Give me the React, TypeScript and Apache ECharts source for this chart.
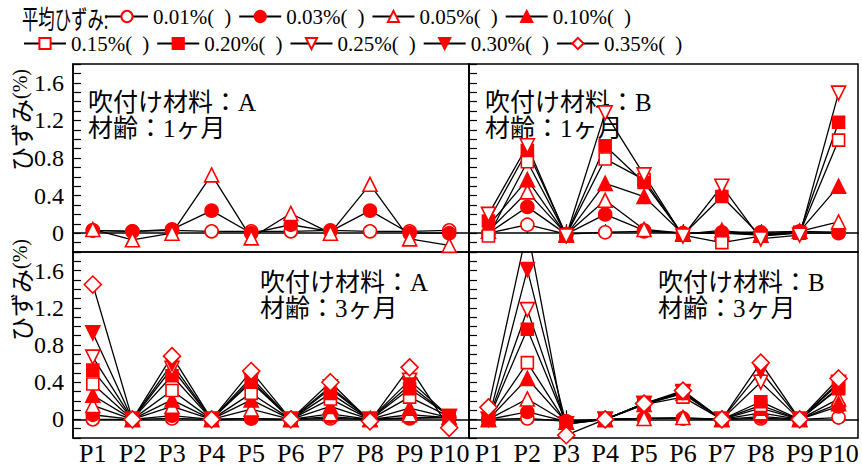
import React, { useEffect, useRef } from "react";
import * as echarts from "echarts";

const CATEGORIES = ["P1", "P2", "P3", "P4", "P5", "P6", "P7", "P8", "P9", "P10"];
const SERIES_NAMES = ["0.01%(  )", "0.03%(  )", "0.05%(  )", "0.10%(  )", "0.15%(  )", "0.20%(  )", "0.25%(  )", "0.30%(  )", "0.35%(  )"];
const Y_TICK_LABELS = ["0", "0.4", "0.8", "1.2", "1.6"];

// Panel A, 1 month (top-left) – series 0.01, 0.03, 0.05
const A1_001 = [0.03, 0.02, 0.03, 0.02, 0.02, 0.02, 0.03, 0.02, 0.02, 0.03];
const A1_003 = [0.03, 0.02, 0.04, 0.24, 0.0, 0.09, 0.02, 0.24, 0.0, 0.0];
const A1_005 = [0.04, -0.07, 0.0, 0.62, -0.05, 0.21, 0.0, 0.52, -0.06, -0.13];

// Panel B, 1 month (top-right) – series 0.01 .. 0.25
const B1_001 = [0.0, 0.09, -0.01, 0.01, 0.02, 0.0, 0.0, -0.01, 0.0, 0.0];
const B1_003 = [0.0, 0.28, -0.01, 0.2, 0.03, 0.0, 0.01, 0.01, 0.02, 0.01];
const B1_005 = [0.02, 0.44, -0.01, 0.35, 0.04, 0.0, 0.0, -0.02, 0.02, 0.12];
const B1_010 = [0.08, 0.57, -0.02, 0.53, 0.39, -0.01, 0.03, -0.02, 0.02, 0.5];
const B1_015 = [-0.03, 0.76, -0.02, 0.79, 0.57, -0.02, -0.1, -0.03, 0.0, 0.99];
const B1_020 = [0.13, 0.88, -0.02, 0.93, 0.54, -0.02, 0.39, -0.03, 0.01, 1.18];
const B1_025 = [0.2, 0.93, -0.03, 1.28, 0.62, -0.03, 0.5, -0.06, -0.02, 1.49];

// Panel A, 3 months (bottom-left) – all series
const A3_001 = [0.0, 0.0, 0.01, 0.0, 0.01, 0.0, 0.01, 0.0, 0.01, 0.02];
const A3_003 = [0.05, 0.0, 0.04, 0.0, 0.01, 0.0, 0.03, 0.0, 0.02, 0.02];
const A3_005 = [0.15, 0.0, 0.14, 0.0, 0.11, 0.0, 0.06, 0.0, 0.05, 0.02];
const A3_010 = [0.26, 0.0, 0.21, 0.0, 0.21, 0.0, 0.14, 0.0, 0.12, 0.02];
const A3_015 = [0.38, 0.0, 0.31, 0.0, 0.28, 0.0, 0.22, 0.0, 0.24, 0.03];
const A3_020 = [0.53, 0.0, 0.47, 0.0, 0.4, 0.0, 0.28, 0.0, 0.33, 0.04];
const A3_025 = [0.67, 0.0, 0.55, 0.0, 0.45, 0.0, 0.33, 0.0, 0.42, 0.03];
const A3_030 = [0.93, 0.0, 0.6, 0.0, 0.42, 0.0, 0.35, 0.0, 0.37, 0.03];
const A3_035 = [1.45, 0.0, 0.68, 0.0, 0.52, 0.0, 0.4, -0.02, 0.56, -0.09];

// Panel B, 3 months (bottom-right) – all series
const B3_001 = [0.0, 0.01, -0.02, 0.0, 0.01, 0.01, 0.0, 0.01, 0.0, 0.02];
const B3_003 = [0.0, 0.08, -0.02, 0.0, 0.01, 0.01, 0.0, 0.03, 0.0, 0.14];
const B3_005 = [0.0, 0.22, -0.03, 0.0, 0.01, 0.02, 0.0, 0.07, 0.0, 0.22];
const B3_010 = [0.0, 0.44, -0.03, 0.0, 0.16, 0.28, 0.0, 0.12, 0.0, 0.17];
const B3_015 = [0.0, 0.61, -0.04, 0.0, 0.16, 0.24, 0.0, 0.15, 0.0, 0.33];
const B3_020 = [0.0, 0.97, -0.04, 0.0, 0.17, 0.28, 0.0, 0.19, 0.0, 0.34];
const B3_025 = [0.0, 1.18, -0.05, 0.0, 0.17, 0.29, 0.0, 0.4, 0.0, 0.38];
const B3_030 = [0.0, 1.61, -0.05, 0.0, 0.17, 0.3, 0.0, 0.52, 0.0, 0.4];
const B3_035 = [0.13, 2.05, -0.17, 0.0, 0.17, 0.31, 0.0, 0.61, 0.0, 0.44];

const PANEL_DATA: (number[] | null)[][] = [
  [A1_001, A1_003, A1_005, null, null, null, null, null, null],
  [B1_001, B1_003, B1_005, B1_010, B1_015, B1_020, B1_025, null, null],
  [A3_001, A3_003, A3_005, A3_010, A3_015, A3_020, A3_025, A3_030, A3_035],
  [B3_001, B3_003, B3_005, B3_010, B3_015, B3_020, B3_025, B3_030, B3_035],
];

const PANEL_LABELS = [
  ["吹付け材料：A", "材齢：1ヶ月"],
  ["吹付け材料：B", "材齢：1ヶ月"],
  ["吹付け材料：A", "材齢：3ヶ月"],
  ["吹付け材料：B", "材齢：3ヶ月"],
];

const RED = "#ff0000";
const MARKERS = [
  { symbol: "circle", size: 13, filled: false, rotate: 0 },
  { symbol: "circle", size: 13, filled: true, rotate: 0 },
  { symbol: "triangle", size: 14, filled: false, rotate: 0 },
  { symbol: "triangle", size: 14, filled: true, rotate: 0 },
  { symbol: "rect", size: 12, filled: false, rotate: 0 },
  { symbol: "rect", size: 12, filled: true, rotate: 0 },
  { symbol: "triangle", size: 14, filled: false, rotate: 180 },
  { symbol: "triangle", size: 14, filled: true, rotate: 180 },
  { symbol: "diamond", size: 17, filled: false, rotate: 0 },
];

const GRIDS = [
  { left: 73, top: 64, width: 396, height: 188 },
  { left: 469, top: 64, width: 389, height: 188 },
  { left: 73, top: 252, width: 396, height: 188 },
  { left: 469, top: 252, width: 389, height: 188 },
];
const LABEL_POS = [
  [88, 89],
  [485, 89],
  [260, 269],
  [658, 269],
];

const SERIF = "'Liberation Serif', 'Noto Sans CJK JP', serif";
const CJK = "'Noto Sans CJK JP', sans-serif";

export default function App() {
  const ref = useRef<HTMLDivElement>(null);
  useEffect(() => {
    if (!ref.current) return;
    const chart = echarts.init(ref.current, undefined, { renderer: "svg" });

    const series: any[] = [];
    PANEL_DATA.forEach((panel, p) => {
      panel.forEach((data, s) => {
        if (!data) return;
        const m = MARKERS[s];
        series.push({
          type: "line",
          name: SERIES_NAMES[s],
          xAxisIndex: p,
          yAxisIndex: p,
          data,
          symbol: m.symbol,
          symbolSize: m.size,
          symbolRotate: m.rotate,
          showAllSymbol: true,
          lineStyle: { color: "#000", width: 1.3 },
          itemStyle: {
            color: m.filled ? RED : "#fff",
            borderColor: RED,
            borderWidth: 1.6,
          },
          emphasis: { disabled: true },
          z: 3,
        });
      });
    });

    const yFormatter = (v: number) => {
      const k = Math.round(v * 10);
      if (k < 0 || k % 4 !== 0) return "";
      return Y_TICK_LABELS[k / 4] ?? "";
    };

    const legendCommon = {
      orient: "horizontal",
      itemWidth: 42,
      itemHeight: 14,
      itemGap: 7,
      padding: 0,
      formatter: (name: string) => `{t|${name.split("(")[0]}(}{g|}{t|)}`,
      textStyle: {
        fontFamily: SERIF,
        fontSize: 21,
        color: "#000",
        rich: {
          t: { fontFamily: SERIF, fontSize: 21, color: "#000" },
          g: { width: 10 },
        },
      },
      selectedMode: false,
    };

    const graphics: any[] = [
      {
        type: "text",
        x: 22,
        y: 18,
        scaleX: 0.63,
        style: { text: "平均ひずみ:", font: `26px ${CJK}`, fill: "#000", verticalAlign: "middle" },
      },
    ];
    [120, 290].forEach((cy) => {
      graphics.push({
        type: "text",
        x: 20,
        y: cy,
        rotation: Math.PI / 2,
        style: {
          text: "{a|ひずみ}{b|(%)}",
          align: "center",
          verticalAlign: "middle",
          fill: "#000",
          rich: {
            a: { fontFamily: CJK, fontSize: 24, fill: "#000" },
            b: { fontFamily: SERIF, fontSize: 20, fill: "#000" },
          },
        },
      });
    });
    PANEL_LABELS.forEach((lines, i) => {
      graphics.push({
        type: "text",
        x: LABEL_POS[i][0],
        y: LABEL_POS[i][1],
        style: {
          text: lines.join("\n"),
          fontFamily: SERIF,
          fontSize: 25,
          lineHeight: 26,
          fill: "#000",
          verticalAlign: "top",
        },
      });
    });

    chart.setOption({
      animation: false,
      backgroundColor: "#fff",
      grid: GRIDS.map((g) => ({ ...g, show: true, borderColor: "#000", borderWidth: 1.5, backgroundColor: "transparent" })),
      legend: [
        { ...legendCommon, data: SERIES_NAMES.slice(0, 4), left: 105, top: 6 },
        { ...legendCommon, data: SERIES_NAMES.slice(4), left: 23, top: 33 },
      ],
      xAxis: GRIDS.map((_, i) => ({
        type: "category",
        gridIndex: i,
        data: CATEGORIES,
        boundaryGap: true,
        axisLine: { show: true, lineStyle: { color: "#000", width: 1.5 } },
        axisTick: { show: true, inside: true, alignWithLabel: true, length: 9, lineStyle: { color: "#000", width: 1.2 } },
        axisLabel: {
          show: i >= 2,
          interval: 0,
          fontFamily: SERIF,
          fontSize: 26,
          color: "#000",
          margin: 2,
        },
        splitLine: { show: false },
      })),
      yAxis: GRIDS.map((_, i) => ({
        type: "value",
        gridIndex: i,
        min: -0.2,
        max: 1.8,
        interval: 0.1,
        axisLine: { show: true, lineStyle: { color: "#000", width: 1.5 } },
        axisTick: { show: true, inside: true, length: 8, lineStyle: { color: "#000", width: 1.2 } },
        axisLabel: {
          show: i % 2 === 0,
          formatter: yFormatter,
          fontFamily: SERIF,
          fontSize: 24,
          color: "#000",
          margin: 9,
          showMinLabel: true,
          showMaxLabel: true,
        },
        splitLine: { show: false },
      })),
      graphic: graphics,
      series,
    });

    return () => chart.dispose();
  }, []);

  return <div ref={ref} style={{ position: "fixed", left: 0, top: 0, width: 862, height: 466 }} />;
}
